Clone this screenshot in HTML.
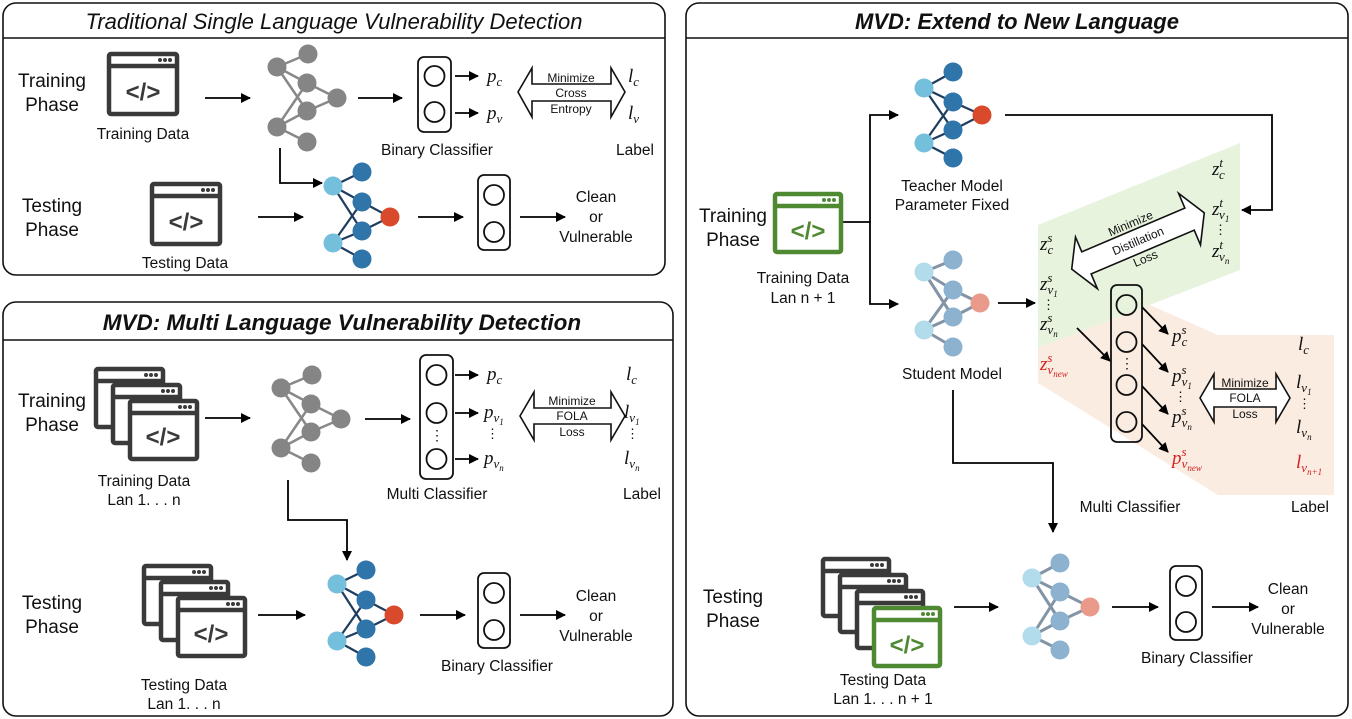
<!DOCTYPE html>
<html><head><meta charset="utf-8"><style>
html,body{margin:0;padding:0;background:#fff;}
svg{display:block;}
.s{font-family:"Liberation Sans",sans-serif;fill:#111;}
.m{font-family:"Liberation Serif",serif;font-style:italic;fill:#111;font-size:19px;}
.r{fill:#d42020;}
.sub{font-size:13px;}
</style></head><body>
<svg width="1352" height="719" viewBox="0 0 1352 719" xmlns="http://www.w3.org/2000/svg">
<defs>
<marker id="ah" markerWidth="10" markerHeight="10" refX="9" refY="5" orient="auto" markerUnits="userSpaceOnUse">
<path d="M0,0 L10,5 L0,10 z" fill="#000"/></marker>
</defs>
<g fill="none" stroke="#111" stroke-width="1.6">
<rect x="3" y="3" width="662" height="272" rx="13" fill="#fff"/>
<line x1="3" y1="38" x2="665" y2="38"/>
<rect x="3" y="302" width="670" height="414" rx="13" fill="#fff"/>
<line x1="3" y1="340" x2="673" y2="340"/>
<rect x="686" y="3" width="662" height="713" rx="13" fill="#fff"/>
<line x1="686" y1="38" x2="1348" y2="38"/>
</g>
<text class="s" x="334" y="29" text-anchor="middle" font-size="22" font-style="italic">Traditional Single Language Vulnerability Detection</text>
<text class="s" x="342" y="330" text-anchor="middle" font-size="22.5" font-style="italic" font-weight="bold">MVD: Multi Language Vulnerability Detection</text>
<text class="s" x="1017" y="29" text-anchor="middle" font-size="22" font-style="italic" font-weight="bold">MVD: Extend to New Language</text>

<!-- colored regions -->
<polygon points="1038,348 1150,305 1218,335 1334,335 1334,495 1218,495 1038,383" fill="#fbeadf" opacity="0.9"/>
<polygon points="1038,225 1240,143 1240,270 1038,348" fill="#e6f2da" opacity="0.9"/>

<!-- arrows (lines) -->
<g stroke="#000" stroke-width="1.8" fill="none" marker-end="url(#ah)">
<line x1="205" y1="98" x2="250" y2="98"/>
<line x1="358" y1="98" x2="402" y2="98"/>
<line x1="455" y1="76" x2="478" y2="76"/>
<line x1="455" y1="113" x2="478" y2="113"/>
<polyline points="280,148 280,183 322,183"/>
<line x1="258" y1="217" x2="303" y2="217"/>
<line x1="418" y1="217" x2="463" y2="217"/>
<line x1="520" y1="217" x2="565" y2="217"/>

<line x1="205" y1="418" x2="250" y2="418"/>
<line x1="365" y1="419" x2="410" y2="419"/>
<line x1="455" y1="375" x2="478" y2="375"/>
<line x1="455" y1="413" x2="478" y2="413"/>
<line x1="455" y1="459" x2="478" y2="459"/>
<polyline points="288,480 288,520 347,520 347,560"/>
<line x1="258" y1="615" x2="305" y2="615"/>
<line x1="420" y1="615" x2="465" y2="615"/>
<line x1="520" y1="615" x2="565" y2="615"/>

<polyline points="1005,115 1272,115 1272,210 1242,210"/>
<polyline points="842,222 870,222 870,115 898,115"/>
<polyline points="870,222 870,304 898,304"/>
<line x1="998" y1="303" x2="1035" y2="303"/>
<line x1="1077" y1="328" x2="1110" y2="361"/>
<line x1="1142" y1="307" x2="1168" y2="334"/>
<line x1="1142" y1="344" x2="1168" y2="372"/>
<line x1="1142" y1="386" x2="1168" y2="414"/>
<line x1="1142" y1="424" x2="1168" y2="452"/>
<polyline points="953,390 953,463 1053,463 1053,532"/>
<line x1="954" y1="607" x2="998" y2="607"/>
<line x1="1112" y1="607" x2="1158" y2="607"/>
<line x1="1212" y1="607" x2="1258" y2="607"/>
</g>

<!-- networks -->
<g stroke="#888" stroke-width="2.5">
<path d="M277,67L308,54M277,67L307,83M277,67L307,111M277,127L307,83M277,127L307,111M277,127L307,142M307,83L337,98M307,111L337,98"/>
<path transform="translate(4,321)" d="M277,67L308,54M277,67L307,83M277,67L307,111M277,127L307,142M277,127L307,83M277,127L307,111M307,83L337,98M307,111L337,98"/>
</g>
<g fill="#858585">
<circle cx="308" cy="54" r="9.5"/><circle cx="277" cy="67" r="9.5"/><circle cx="307" cy="83" r="9.5"/><circle cx="337" cy="98" r="9.5"/><circle cx="307" cy="111" r="9.5"/><circle cx="277" cy="127" r="9.5"/><circle cx="307" cy="142" r="9.5"/>
<g transform="translate(4,321)"><circle cx="308" cy="54" r="9.5"/><circle cx="277" cy="67" r="9.5"/><circle cx="307" cy="83" r="9.5"/><circle cx="337" cy="98" r="9.5"/><circle cx="307" cy="111" r="9.5"/><circle cx="277" cy="127" r="9.5"/><circle cx="307" cy="142" r="9.5"/></g>
</g>
<!-- blue nets -->
<g>
<path stroke="#1f3d5e" stroke-width="2.2" d="M333,186L362,172M333,186L362,202M333,186L362,231M333,243L362,202M333,243L362,231M333,243L362,259M362,202L390,217M362,231L390,217"/>
<circle cx="362" cy="172" r="9.5" fill="#2f75a9"/><circle cx="362" cy="202" r="9.5" fill="#2f75a9"/><circle cx="362" cy="231" r="9.5" fill="#2f75a9"/><circle cx="362" cy="259" r="9.5" fill="#2f75a9"/>
<circle cx="333" cy="186" r="9.5" fill="#74bfdc"/><circle cx="333" cy="243" r="9.5" fill="#74bfdc"/><circle cx="390" cy="217" r="9.5" fill="#d9492c"/>
</g>
<g transform="translate(4,398)">
<path stroke="#1f3d5e" stroke-width="2.2" d="M333,186L362,172M333,186L362,202M333,186L362,231M333,243L362,202M333,243L362,231M333,243L362,259M362,202L390,217M362,231L390,217"/>
<circle cx="362" cy="172" r="9.5" fill="#2f75a9"/><circle cx="362" cy="202" r="9.5" fill="#2f75a9"/><circle cx="362" cy="231" r="9.5" fill="#2f75a9"/><circle cx="362" cy="259" r="9.5" fill="#2f75a9"/>
<circle cx="333" cy="186" r="9.5" fill="#74bfdc"/><circle cx="333" cy="243" r="9.5" fill="#74bfdc"/><circle cx="390" cy="217" r="9.5" fill="#d9492c"/>
</g>
<!-- teacher -->
<g transform="translate(591,-102)">
<path stroke="#1f3d5e" stroke-width="2.2" d="M333,190L362,174M333,190L362,204M333,190L362,232M333,245L362,204M333,245L362,232M333,245L362,260M362,204L391,217M362,232L391,217"/>
<circle cx="362" cy="174" r="9.5" fill="#2f75a9"/><circle cx="362" cy="204" r="9.5" fill="#2f75a9"/><circle cx="362" cy="232" r="9.5" fill="#2f75a9"/><circle cx="362" cy="260" r="9.5" fill="#2f75a9"/>
<circle cx="333" cy="190" r="9.5" fill="#74bfdc"/><circle cx="333" cy="245" r="9.5" fill="#74bfdc"/><circle cx="391" cy="217" r="9.5" fill="#d9492c"/>
</g>
<!-- student -->
<g transform="translate(591,86)" opacity="0.55">
<path stroke="#1f3d5e" stroke-width="3" d="M333,186L362,174M333,186L362,204M333,186L362,231M333,244L362,204M333,244L362,231M333,244L362,261M362,204L389,217M362,231L389,217"/>
<circle cx="362" cy="174" r="9.5" fill="#2f75a9"/><circle cx="362" cy="204" r="9.5" fill="#2f75a9"/><circle cx="362" cy="231" r="9.5" fill="#2f75a9"/><circle cx="362" cy="261" r="9.5" fill="#2f75a9"/>
<circle cx="333" cy="186" r="9.5" fill="#74bfdc"/><circle cx="333" cy="244" r="9.5" fill="#74bfdc"/><circle cx="389" cy="217" r="9.5" fill="#d9492c"/>
</g>
<!-- test net right -->
<g transform="translate(699,390)" opacity="0.55">
<path stroke="#1f3d5e" stroke-width="3" d="M333,188L361,173M333,188L361,202M333,188L361,231M333,246L361,202M333,246L361,231M333,246L361,260M361,202L391,217M361,231L391,217"/>
<circle cx="361" cy="173" r="9.5" fill="#2f75a9"/><circle cx="361" cy="202" r="9.5" fill="#2f75a9"/><circle cx="361" cy="231" r="9.5" fill="#2f75a9"/><circle cx="361" cy="260" r="9.5" fill="#2f75a9"/>
<circle cx="333" cy="188" r="9.5" fill="#74bfdc"/><circle cx="333" cy="246" r="9.5" fill="#74bfdc"/><circle cx="391" cy="217" r="9.5" fill="#d9492c"/>
</g>

<!-- classifier boxes -->
<g fill="none" stroke="#111" stroke-width="1.8">
<rect x="418" y="57" width="33" height="75" rx="6"/><circle cx="434.5" cy="76" r="10"/><circle cx="434.5" cy="112" r="10"/>
<rect x="478" y="175" width="32" height="75" rx="6"/><circle cx="494" cy="195" r="10"/><circle cx="494" cy="232" r="10"/>
<rect x="420" y="355" width="33" height="124" rx="6"/><circle cx="436.5" cy="375" r="10"/><circle cx="436.5" cy="413" r="10"/><circle cx="436.5" cy="459" r="10"/>
<rect x="478" y="573" width="32" height="75" rx="6"/><circle cx="494" cy="593" r="10"/><circle cx="494" cy="630" r="10"/>
<rect x="1111" y="285" width="31" height="157" rx="6"/><circle cx="1126.5" cy="305" r="10"/><circle cx="1126.5" cy="342" r="10"/><circle cx="1126.5" cy="385" r="10"/><circle cx="1126.5" cy="422" r="10"/>
<rect x="1170" y="566" width="32" height="74" rx="6"/><circle cx="1186" cy="586" r="10"/><circle cx="1186" cy="622" r="10"/>
</g>
<text class="s" x="437" y="440" text-anchor="middle" font-size="14">⋮</text>
<text class="s" x="1127" y="368" text-anchor="middle" font-size="14">⋮</text>

<!-- icons -->
<g stroke="#3a3a3a" stroke-width="4.5" fill="#fff">
<rect x="109" y="54" width="68" height="60" rx="2"/><line x1="109" y1="66" x2="177" y2="66"/>
<rect x="152" y="184" width="68" height="60" rx="2"/><line x1="152" y1="196" x2="220" y2="196"/>
<rect x="96" y="369" width="67" height="58" rx="2"/><line x1="96" y1="381" x2="163" y2="381"/>
<rect x="113" y="385" width="67" height="58" rx="2"/><line x1="113" y1="397" x2="180" y2="397"/>
<rect x="130" y="401" width="67" height="58" rx="2"/><line x1="130" y1="413" x2="197" y2="413"/>
<rect x="144" y="566" width="67" height="58" rx="2"/><line x1="144" y1="578" x2="211" y2="578"/>
<rect x="161" y="582" width="67" height="58" rx="2"/><line x1="161" y1="594" x2="228" y2="594"/>
<rect x="178" y="598" width="67" height="58" rx="2"/><line x1="178" y1="610" x2="245" y2="610"/>
<rect x="823" y="559" width="66" height="57" rx="2"/><line x1="823" y1="571" x2="889" y2="571"/>
<rect x="840" y="575" width="66" height="57" rx="2"/><line x1="840" y1="587" x2="906" y2="587"/>
<rect x="857" y="591" width="66" height="57" rx="2"/><line x1="857" y1="603" x2="923" y2="603"/>
</g>
<g stroke="#4f8a33" stroke-width="4.5" fill="#fff">
<rect x="775" y="194" width="66" height="58" rx="2"/><line x1="775" y1="206" x2="841" y2="206"/>
<rect x="874" y="608" width="66" height="58" rx="2"/><line x1="874" y1="620" x2="940" y2="620"/>
</g>
<g fill="#3a3a3a">
<circle cx="160" cy="60" r="2"/><circle cx="165" cy="60" r="2"/><circle cx="170" cy="60" r="2"/>
<circle cx="203" cy="190" r="2"/><circle cx="208" cy="190" r="2"/><circle cx="213" cy="190" r="2"/>
<circle cx="146" cy="375" r="2"/><circle cx="151" cy="375" r="2"/><circle cx="156" cy="375" r="2"/>
<circle cx="163" cy="391" r="2"/><circle cx="168" cy="391" r="2"/><circle cx="173" cy="391" r="2"/>
<circle cx="180" cy="407" r="2"/><circle cx="185" cy="407" r="2"/><circle cx="190" cy="407" r="2"/>
<circle cx="194" cy="572" r="2"/><circle cx="199" cy="572" r="2"/><circle cx="204" cy="572" r="2"/>
<circle cx="211" cy="588" r="2"/><circle cx="216" cy="588" r="2"/><circle cx="221" cy="588" r="2"/>
<circle cx="228" cy="604" r="2"/><circle cx="233" cy="604" r="2"/><circle cx="238" cy="604" r="2"/>
<circle cx="872" cy="565" r="2"/><circle cx="877" cy="565" r="2"/><circle cx="882" cy="565" r="2"/>
<circle cx="889" cy="581" r="2"/><circle cx="894" cy="581" r="2"/><circle cx="899" cy="581" r="2"/>
<circle cx="906" cy="597" r="2"/><circle cx="911" cy="597" r="2"/><circle cx="916" cy="597" r="2"/>
</g>
<g fill="#4f8a33">
<circle cx="824" cy="200" r="2"/><circle cx="829" cy="200" r="2"/><circle cx="834" cy="200" r="2"/>
<circle cx="923" cy="614" r="2"/><circle cx="928" cy="614" r="2"/><circle cx="933" cy="614" r="2"/>
</g>
<g class="s" font-size="24" font-weight="bold" text-anchor="middle" style="fill:#3a3a3a">
<text x="143" y="100">&lt;/&gt;</text>
<text x="186" y="230">&lt;/&gt;</text>
<text x="163" y="445">&lt;/&gt;</text>
<text x="211" y="642">&lt;/&gt;</text>
</g>
<g class="s" font-size="24" font-weight="bold" text-anchor="middle" style="fill:#4f8a33">
<text x="808" y="239">&lt;/&gt;</text>
<text x="907" y="653">&lt;/&gt;</text>
</g>

<!-- double arrows -->
<g fill="#fff" stroke="#111" stroke-width="1.6">
<polygon points="518,92 532,68 532,84 611,84 611,68 625,92 611,117 611,101 532,101 532,117"/>
<polygon points="520,416 534,392 534,408 611,408 611,392 625,416 611,440 611,424 534,424 534,440"/>
<polygon points="1200,398 1214,374 1214,389 1276,389 1276,374 1290,398 1276,422 1276,407 1214,407 1214,422"/>
<g transform="translate(1138,241) rotate(-23)">
<polygon points="-72,0 -56,-28 -56,-12 56,-12 56,-28 72,0 56,28 56,12 -56,12 -56,28"/>
</g>
</g>
<g class="s" font-size="12" text-anchor="middle">
<text x="571" y="82">Minimize</text><text x="571" y="97">Cross</text><text x="571" y="113">Entropy</text>
<text x="572" y="405">Minimize</text><text x="572" y="420">FOLA</text><text x="572" y="436">Loss</text>
<text x="1245" y="387">Minimize</text><text x="1245" y="402">FOLA</text><text x="1245" y="418">Loss</text>
<g transform="translate(1138,241) rotate(-23)"><text x="0" y="-15">Minimize</text><text x="0" y="4">Distillation</text><text x="0" y="23">Loss</text></g>
</g>

<!-- labels -->
<g class="s" font-size="19" text-anchor="middle">
<text x="52" y="87">Training</text><text x="52" y="111">Phase</text>
<text x="52" y="212">Testing</text><text x="52" y="236">Phase</text>
<text x="52" y="407">Training</text><text x="52" y="431">Phase</text>
<text x="52" y="609">Testing</text><text x="52" y="633">Phase</text>
<text x="733" y="222">Training</text><text x="733" y="246">Phase</text>
<text x="733" y="603">Testing</text><text x="733" y="627">Phase</text>
</g>
<g class="s" font-size="15.5" text-anchor="middle">
<text x="143" y="139">Training Data</text>
<text x="185" y="268">Testing Data</text>
<text x="437" y="155">Binary Classifier</text>
<text x="635" y="155">Label</text>
<text x="596" y="202">Clean</text><text x="596" y="222">or</text><text x="596" y="242">Vulnerable</text>
<text x="144" y="486">Training Data</text><text x="144" y="505">Lan 1. . . n</text>
<text x="437" y="499">Multi Classifier</text><text x="642" y="499">Label</text>
<text x="184" y="690">Testing Data</text><text x="184" y="709">Lan 1. . . n</text>
<text x="497" y="671">Binary Classifier</text>
<text x="596" y="601">Clean</text><text x="596" y="621">or</text><text x="596" y="641">Vulnerable</text>
<text x="952" y="191">Teacher Model</text><text x="952" y="210">Parameter Fixed</text>
<text x="803" y="283">Training Data</text><text x="803" y="303">Lan n + 1</text>
<text x="952" y="379">Student Model</text>
<text x="1130" y="512">Multi Classifier</text><text x="1310" y="512">Label</text>
<text x="883" y="685">Testing Data</text><text x="883" y="704">Lan 1. . . n + 1</text>
<text x="1197" y="663">Binary Classifier</text>
<text x="1288" y="594">Clean</text><text x="1288" y="614">or</text><text x="1288" y="634">Vulnerable</text>
</g>

<!-- math -->
<g class="m">
<text x="487" y="82">p<tspan class="sub" dy="4">c</tspan></text>
<text x="487" y="119">p<tspan class="sub" dy="4">v</tspan></text>
<text x="628" y="82">l<tspan class="sub" dy="4">c</tspan></text>
<text x="628" y="119">l<tspan class="sub" dy="4">v</tspan></text>

<text x="487" y="380">p<tspan class="sub" dy="4">c</tspan></text>
<text x="484" y="418">p<tspan class="sub" dy="4">v<tspan font-size="9" dy="3">1</tspan></tspan></text>
<text x="486" y="438" font-size="13" font-style="normal">⋮</text>
<text x="484" y="464">p<tspan class="sub" dy="4">v<tspan font-size="9" dy="3">n</tspan></tspan></text>
<text x="626" y="380">l<tspan class="sub" dy="4">c</tspan></text>
<text x="624" y="418">l<tspan class="sub" dy="4">v<tspan font-size="9" dy="3">1</tspan></tspan></text>
<text x="626" y="438" font-size="13" font-style="normal">⋮</text>
<text x="624" y="464">l<tspan class="sub" dy="4">v<tspan font-size="9" dy="3">n</tspan></tspan></text>

<text x="1040" y="250">z<tspan class="sub" dy="-8">s</tspan><tspan class="sub" dx="-5" dy="12">c</tspan></text>
<text x="1040" y="290">z<tspan class="sub" dy="-8">s</tspan><tspan class="sub" dx="-5" dy="12">v<tspan font-size="9" dy="3">1</tspan></tspan></text>
<text x="1042" y="309" font-size="13" font-style="normal">⋮</text>
<text x="1040" y="330">z<tspan class="sub" dy="-8">s</tspan><tspan class="sub" dx="-5" dy="12">v<tspan font-size="9" dy="3">n</tspan></tspan></text>
<text x="1040" y="370" class="m r">z<tspan class="sub" dy="-8">s</tspan><tspan class="sub" dx="-5" dy="12">v<tspan font-size="9" dy="3">new</tspan></tspan></text>

<text x="1212" y="175">z<tspan class="sub" dy="-8">t</tspan><tspan class="sub" dx="-4" dy="12">c</tspan></text>
<text x="1212" y="215">z<tspan class="sub" dy="-8">t</tspan><tspan class="sub" dx="-4" dy="12">v<tspan font-size="9" dy="3">1</tspan></tspan></text>
<text x="1214" y="234" font-size="13" font-style="normal">⋮</text>
<text x="1212" y="257">z<tspan class="sub" dy="-8">t</tspan><tspan class="sub" dx="-4" dy="12">v<tspan font-size="9" dy="3">n</tspan></tspan></text>

<text x="1172" y="342">p<tspan class="sub" dy="-8">s</tspan><tspan class="sub" dx="-5" dy="12">c</tspan></text>
<text x="1172" y="382">p<tspan class="sub" dy="-8">s</tspan><tspan class="sub" dx="-5" dy="12">v<tspan font-size="9" dy="3">1</tspan></tspan></text>
<text x="1174" y="401" font-size="13" font-style="normal">⋮</text>
<text x="1172" y="423">p<tspan class="sub" dy="-8">s</tspan><tspan class="sub" dx="-5" dy="12">v<tspan font-size="9" dy="3">n</tspan></tspan></text>
<text x="1172" y="464" class="m r">p<tspan class="sub" dy="-8">s</tspan><tspan class="sub" dx="-5" dy="12">v<tspan font-size="9" dy="3">new</tspan></tspan></text>

<text x="1298" y="350">l<tspan class="sub" dy="4">c</tspan></text>
<text x="1296" y="388">l<tspan class="sub" dy="4">v<tspan font-size="9" dy="3">1</tspan></tspan></text>
<text x="1298" y="408" font-size="13" font-style="normal">⋮</text>
<text x="1296" y="433">l<tspan class="sub" dy="4">v<tspan font-size="9" dy="3">n</tspan></tspan></text>
<text x="1296" y="468" class="m r">l<tspan class="sub" dy="4">v<tspan font-size="9" dy="3">n+1</tspan></tspan></text>
</g>
</svg>
</body></html>
